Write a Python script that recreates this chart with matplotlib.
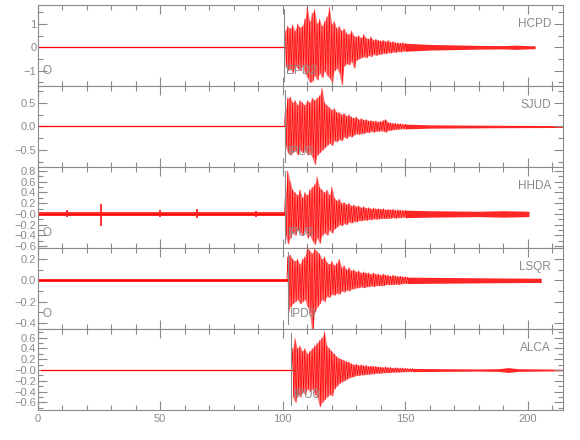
import numpy as np
import matplotlib
matplotlib.use('Agg')
import matplotlib.pyplot as plt
from matplotlib.ticker import MultipleLocator

plt.rcParams['font.family'] = ['Liberation Sans', 'DejaVu Sans']

GRAY = '#8a8a8a'

# station info, top panel first
stations = ['HCPD', 'SJUD', 'HHDA', 'LSQR', 'ALCA']
pick_labels = ['EPD2', 'IPU0', 'IPU0', 'IPD0', 'IPU0']
pick_times = [100.5, 101.0, 101.0, 102.0, 103.5]
show_origin = [True, False, True, True, False]
trace_start = [0.0, 0.0, 0.0, 0.0, 1.5]
onsets = [101, 101, 101, 102, 104]
noise_levels = [0.025, 0.012, 0.035, 0.015, 0.008]

# y axes
ylims = [(-1.65, 1.8), (-0.85, 0.85), (-0.635, 0.875), (-0.456, 0.303), (-0.74, 0.76)]
yticks = [[-1, 0, 1],
          [-0.5, 0.0, 0.5],
          [-0.6, -0.4, -0.2, 0.0, 0.2, 0.4, 0.6, 0.8],
          [-0.4, -0.2, 0.0, 0.2],
          [-0.6, -0.4, -0.2, 0.0, 0.2, 0.4, 0.6]]
ytick_labels = [['\u22121', '0', '1'],
                ['\u22120.5', '0.0', '0.5'],
                ['\u22120.6', '\u22120.4', '\u22120.2', '\u22120.0', '0.2', '0.4', '0.6', '0.8'],
                ['\u22120.4', '\u22120.2', '0.0', '0.2'],
                ['\u22120.6', '\u22120.4', '\u22120.2', '\u22120.0', '0.2', '0.4', '0.6']]
yminor = [0.5, 0.25, 0.1, 0.1, 0.1]

# positive / negative peak amplitudes, one per second from the onset
hcpd_up = [0.7, 0.9, 0.8, 0.95, 0.7, 1.0, 0.85, 0.9, 1.2, 1.7, 1.1, 1.45, 1.6, 1.0, 1.2, 0.9, 1.1, 1.3, 1.7, 1.0,
           1.1, 0.8, 0.9, 0.7, 0.8, 0.6, 0.55, 0.7, 0.5, 0.45, 0.5, 0.4, 0.55, 0.4, 0.35, 0.45, 0.3, 0.35, 0.3, 0.28,
           0.3, 0.25, 0.3, 0.22, 0.25, 0.2, 0.2, 0.18, 0.2, 0.17]
hcpd_dn = [0.8, 1.0, 0.9, 1.1, 0.8, 0.9, 1.0, 0.8, 1.1, 1.3, 1.5, 1.45, 1.2, 1.4, 1.1, 1.3, 1.0, 1.2, 1.3, 1.5,
           1.0, 0.9, 1.1, 1.6, 0.8, 0.7, 0.75, 0.6, 0.9, 0.55, 0.5, 0.45, 0.4, 0.45, 0.35, 0.4, 0.3, 0.35, 0.3, 0.3,
           0.25, 0.28, 0.22, 0.25, 0.2, 0.22, 0.18, 0.2, 0.16, 0.17]
sjud_up = [0.3, 0.6, 0.62, 0.5, 0.55, 0.45, 0.55, 0.5, 0.45, 0.55, 0.5, 0.6, 0.55, 0.6, 0.65, 0.8, 0.5, 0.45, 0.4, 0.35,
           0.38, 0.3, 0.3, 0.25, 0.28, 0.22, 0.25, 0.2, 0.18, 0.2, 0.15, 0.17, 0.14, 0.15, 0.12, 0.13, 0.11, 0.12, 0.1, 0.11,
           0.13, 0.15, 0.09, 0.08, 0.07, 0.07, 0.06, 0.06, 0.05, 0.05]
sjud_dn = [0.4, 0.55, 0.6, 0.55, 0.5, 0.6, 0.5, 0.55, 0.5, 0.6, 0.55, 0.65, 0.8, 0.6, 0.55, 0.5, 0.45, 0.4, 0.35, 0.4,
           0.3, 0.32, 0.27, 0.3, 0.22, 0.25, 0.2, 0.22, 0.18, 0.15, 0.17, 0.14, 0.15, 0.12, 0.13, 0.1, 0.12, 0.1, 0.1, 0.09,
           0.1, 0.12, 0.08, 0.08, 0.07, 0.06, 0.06, 0.05, 0.05, 0.05]
hhda_up = [0.3, 0.8, 0.6, 0.45, 0.4, 0.35, 0.45, 0.3, 0.4, 0.35, 0.45, 0.5, 0.55, 0.69, 0.5, 0.45, 0.4, 0.45, 0.35, 0.5,
           0.3, 0.25, 0.28, 0.2, 0.22, 0.18, 0.2, 0.15, 0.17, 0.14, 0.15, 0.12, 0.14, 0.11, 0.12, 0.1, 0.11, 0.1, 0.1, 0.09,
           0.1, 0.08, 0.09, 0.08, 0.09, 0.07, 0.08, 0.07, 0.07, 0.07]
hhda_dn = [0.4, 0.56, 0.45, 0.35, 0.4, 0.3, 0.35, 0.4, 0.3, 0.45, 0.4, 0.5, 0.57, 0.45, 0.55, 0.4, 0.35, 0.4, 0.3, 0.36,
           0.28, 0.25, 0.2, 0.22, 0.18, 0.2, 0.15, 0.17, 0.14, 0.15, 0.12, 0.13, 0.11, 0.12, 0.1, 0.11, 0.09, 0.1, 0.09, 0.09,
           0.08, 0.09, 0.08, 0.08, 0.07, 0.08, 0.07, 0.07, 0.06, 0.07]
lsqr_up = [0.22, 0.24, 0.2, 0.18, 0.2, 0.15, 0.2, 0.22, 0.31, 0.28, 0.25, 0.3, 0.27, 0.25, 0.2, 0.22, 0.17, 0.15, 0.18, 0.14,
           0.16, 0.2, 0.12, 0.14, 0.1, 0.12, 0.09, 0.1, 0.08, 0.09, 0.07, 0.08, 0.07, 0.07, 0.06, 0.07, 0.06, 0.06, 0.05, 0.06,
           0.05, 0.05, 0.04, 0.05, 0.04, 0.04, 0.04, 0.035, 0.035, 0.03]
lsqr_dn = [0.31, 0.25, 0.22, 0.2, 0.18, 0.22, 0.2, 0.18, 0.25, 0.3, 0.53, 0.3, 0.25, 0.22, 0.18, 0.2, 0.15, 0.16, 0.13, 0.14,
           0.12, 0.13, 0.1, 0.11, 0.09, 0.1, 0.08, 0.08, 0.07, 0.07, 0.06, 0.07, 0.06, 0.06, 0.05, 0.06, 0.05, 0.05, 0.05, 0.05,
           0.04, 0.04, 0.04, 0.04, 0.035, 0.04, 0.035, 0.03, 0.03, 0.03]
alca_up = [0.4, 0.58, 0.4, 0.45, 0.35, 0.4, 0.3, 0.35, 0.4, 0.45, 0.5, 0.55, 0.6, 0.71, 0.45, 0.4, 0.35, 0.3, 0.25, 0.22,
           0.2, 0.18, 0.16, 0.15, 0.12, 0.1, 0.11, 0.09, 0.1, 0.08, 0.09, 0.07, 0.08, 0.07, 0.07, 0.06, 0.06, 0.05, 0.06, 0.05,
           0.05, 0.04, 0.045, 0.04, 0.04, 0.035, 0.035, 0.03, 0.03, 0.03]
alca_dn = [0.5, 0.6, 0.45, 0.5, 0.4, 0.45, 0.35, 0.4, 0.35, 0.45, 0.5, 0.68, 0.6, 0.55, 0.5, 0.45, 0.48, 0.35, 0.3, 0.25,
           0.22, 0.2, 0.17, 0.15, 0.13, 0.12, 0.1, 0.1, 0.09, 0.09, 0.08, 0.08, 0.07, 0.07, 0.06, 0.06, 0.06, 0.05, 0.05, 0.05,
           0.045, 0.04, 0.04, 0.04, 0.035, 0.035, 0.03, 0.03, 0.03, 0.03]
peaks_up = [hcpd_up, sjud_up, hhda_up, lsqr_up, alca_up]
peaks_dn = [hcpd_dn, sjud_dn, hhda_dn, lsqr_dn, alca_dn]

# late coda envelope
coda_t = [[150, 160, 170, 180, 190, 195, 200, 203],
          [150, 160, 175, 190, 214.5],
          [150, 160, 170, 180, 190, 200.5],
          [151, 160, 175, 190, 205.5],
          [153, 165, 180, 188, 192, 196, 214.5]]
coda_a = [[0.17, 0.12, 0.1, 0.08, 0.07, 0.09, 0.07, 0.06],
          [0.05, 0.035, 0.03, 0.025, 0.02],
          [0.07, 0.06, 0.055, 0.05, 0.06, 0.05],
          [0.03, 0.028, 0.025, 0.022, 0.02],
          [0.03, 0.025, 0.02, 0.025, 0.045, 0.025, 0.015]]

# short bursts in the HHDA noise before the event
hhda_bursts_t = [12, 26, 50, 65, 89]
hhda_bursts_up = [0.07, 0.18, 0.07, 0.09, 0.06]
hhda_bursts_dn = [0.06, 0.23, 0.06, 0.07, 0.06]

fig = plt.figure(figsize=(5.8, 4.4), dpi=100)
left = 37.7 / 580
width = (563.3 - 37.7) / 580
h = 81 / 440

axes = []
for i in range(5):
    bottom = (440 - 5 - 81 * (i + 1)) / 440
    ax = fig.add_axes([left, bottom, width, h])
    axes.append(ax)

    # pre-event noise
    ax.fill_between([trace_start[i], onsets[i]], -noise_levels[i], noise_levels[i],
                    color='red', lw=0, alpha=0.8)
    ax.plot([trace_start[i], onsets[i]], [0, 0], color='#ff0000', lw=0.9)
    if stations[i] == 'HHDA':
        ax.vlines(hhda_bursts_t, [-d for d in hhda_bursts_dn], hhda_bursts_up,
                  color='#ff2020', lw=1.3)

    # main wave train
    up = np.array(peaks_up[i])
    dn = np.array(peaks_dn[i])
    t = onsets[i] + np.arange(len(up))
    ax.fill_between(t, -dn, up, color='red', alpha=0.55, lw=0, clip_on=False)
    zx = np.column_stack([t, t + 0.5]).ravel()
    zy = np.column_stack([up, -dn]).ravel()
    ax.plot(np.concatenate([[onsets[i] - 0.3], zx]), np.concatenate([[0], zy]),
            color='red', lw=0.45, clip_on=False)

    # coda
    ct = np.array(coda_t[i])
    ca = np.array(coda_a[i])
    ax.fill_between(ct, -ca, ca, color='red', alpha=0.85, lw=0)

    # pick marker
    ax.axvline(pick_times[i], ymin=0.06, ymax=0.95, color=GRAY, lw=0.8, zorder=3)
    ax.text(pick_times[i] + 1.0, 0.19, pick_labels[i], transform=ax.get_xaxis_transform(),
            color=GRAY, fontsize=8.5, va='center', ha='left', zorder=4)
    if show_origin[i]:
        ax.text(1.8, 0.19, 'O', transform=ax.get_xaxis_transform(),
                color=GRAY, fontsize=8.5, va='center', ha='left')
    ax.text(209.5, 0.77, stations[i], transform=ax.get_xaxis_transform(),
            color=GRAY, fontsize=8.5, va='center', ha='right')

    ax.set_xlim(0, 214.5)
    ax.set_ylim(*ylims[i])
    ax.set_yticks(yticks[i])
    ax.set_yticklabels(ytick_labels[i])
    ax.yaxis.set_minor_locator(MultipleLocator(yminor[i]))
    ax.xaxis.set_major_locator(MultipleLocator(50))
    ax.xaxis.set_minor_locator(MultipleLocator(10))
    ax.tick_params(which='both', direction='in', top=True, right=True,
                   color=GRAY, labelcolor=GRAY, labelsize=8, width=0.8)
    ax.tick_params(which='major', length=6.5)
    ax.tick_params(which='minor', length=3.5)
    ax.tick_params(axis='y', pad=1)
    ax.tick_params(axis='x', pad=3)
    for sp in ax.spines.values():
        sp.set_color(GRAY)
        sp.set_linewidth(0.8)
    if i < 4:
        ax.set_xticklabels([])

axes[4].set_xticks([0, 50, 100, 150, 200])
axes[4].set_xticklabels(['0', '50', '100', '150', '200'])

fig.savefig('out.png', dpi=100)
